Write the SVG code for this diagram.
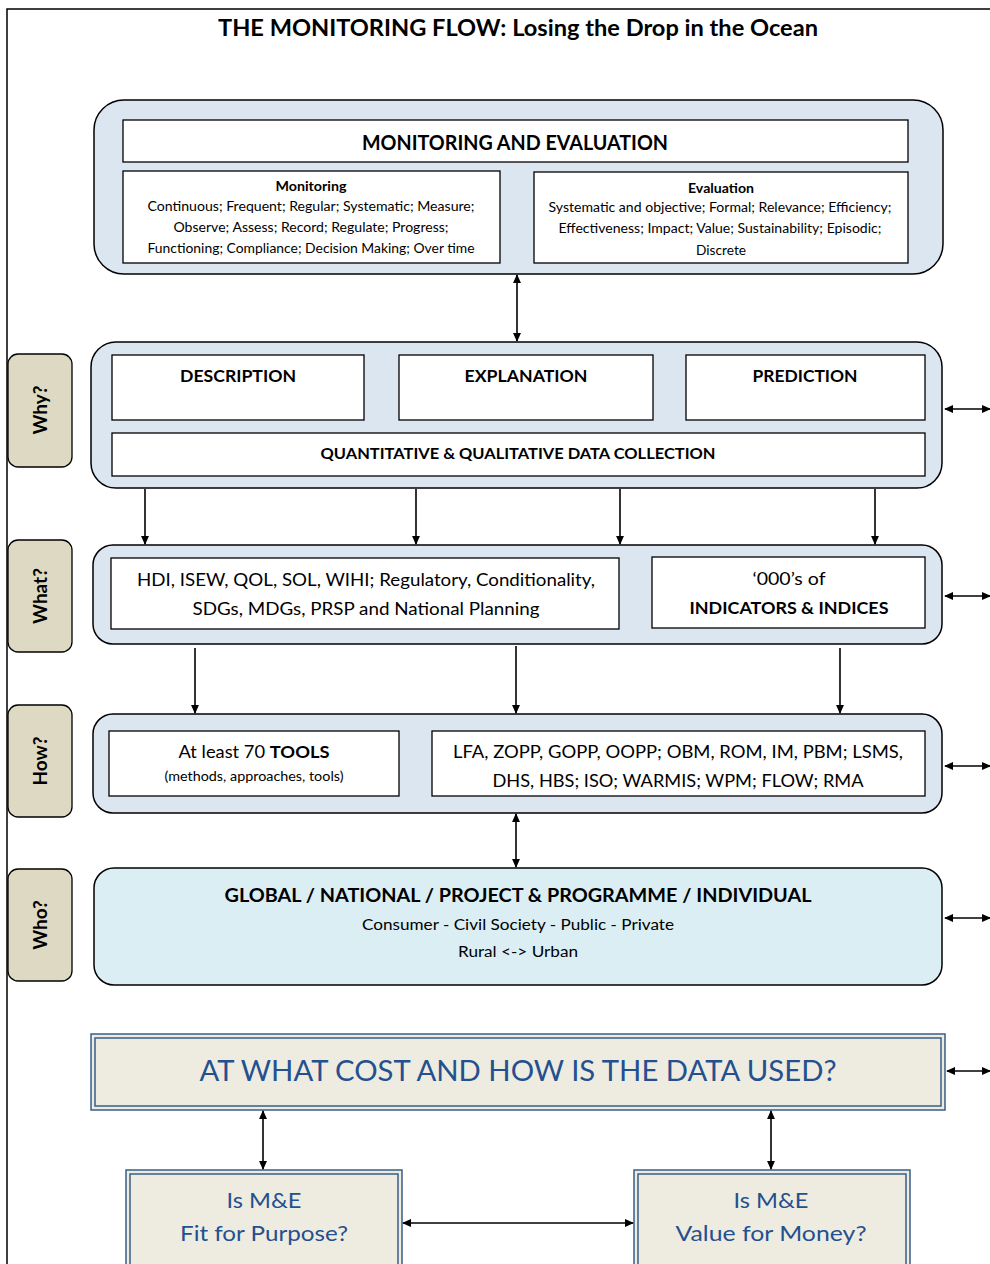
<svg xmlns="http://www.w3.org/2000/svg" width="990" height="1264" viewBox="0 0 990 1264">
<style>
text{font-family:Lato,"Open Sans","Liberation Sans",sans-serif;fill:#000;text-anchor:middle}
.b{font-weight:bold}
.grp{fill:#dce6f1;stroke:#000;stroke-width:1.5}
.in{fill:#fff;stroke:#000;stroke-width:1.3}
.side{fill:#ddd9c3;stroke:#000;stroke-width:1.3}
.cost{fill:#eeece1;stroke:#385d8a;stroke-width:1.5}
.bl{fill:#24508f}
.c line{stroke:#000;stroke-width:1.6}
</style>
<defs>
<marker id="ah" viewBox="0 0 10 10" refX="9" refY="5" markerWidth="9" markerHeight="8" orient="auto-start-reverse" markerUnits="userSpaceOnUse" preserveAspectRatio="none">
<path d="M0,0 L10,5 L0,10 z" fill="#000"/>
</marker>
</defs>
<rect width="990" height="1264" fill="#fff"/>
<path d="M7,1264 V9 H990" fill="none" stroke="#000" stroke-width="1.5"/>
<text x="518" y="36" class="b" font-size="22" textLength="600" lengthAdjust="spacingAndGlyphs">THE MONITORING FLOW: Losing the Drop in the Ocean</text>

<g id="me">
<rect class="grp" x="94" y="100" width="849" height="174" rx="30"/>
<rect class="in" x="123" y="120" width="785" height="42"/>
<text x="515" y="150" class="b" font-size="20" textLength="306" lengthAdjust="spacingAndGlyphs">MONITORING AND EVALUATION</text>
<rect class="in" x="123" y="171" width="377" height="92"/>
<text x="311" y="191" class="b" font-size="12.5" textLength="71" lengthAdjust="spacingAndGlyphs">Monitoring</text>
<text x="311" y="211" font-size="13.5" textLength="327" lengthAdjust="spacingAndGlyphs">Continuous; Frequent; Regular; Systematic; Measure;</text>
<text x="311" y="232" font-size="13.5" textLength="275" lengthAdjust="spacingAndGlyphs">Observe; Assess; Record; Regulate; Progress;</text>
<text x="311" y="253" font-size="13.5" textLength="327" lengthAdjust="spacingAndGlyphs">Functioning; Compliance; Decision Making; Over time</text>
<rect class="in" x="534" y="172" width="374" height="91"/>
<text x="721" y="193" class="b" font-size="12.5" textLength="66" lengthAdjust="spacingAndGlyphs">Evaluation</text>
<text x="720" y="212" font-size="13.5" textLength="343" lengthAdjust="spacingAndGlyphs">Systematic and objective; Formal; Relevance; Efficiency;</text>
<text x="720" y="233" font-size="13.5" textLength="323" lengthAdjust="spacingAndGlyphs">Effectiveness; Impact; Value; Sustainability; Episodic;</text>
<text x="721" y="255" font-size="13.5" textLength="50" lengthAdjust="spacingAndGlyphs">Discrete</text>
</g>

<g id="why">
<rect class="side" x="8" y="354" width="64" height="113" rx="10"/>
<text transform="translate(47,410) rotate(-90)" class="b" font-size="19">Why?</text>
<rect class="grp" x="91" y="342" width="851" height="146" rx="25"/>
<rect class="in" x="112" y="355" width="252" height="65"/>
<text x="238" y="382" class="b" font-size="17" textLength="116" lengthAdjust="spacingAndGlyphs">DESCRIPTION</text>
<rect class="in" x="399" y="355" width="254" height="65"/>
<text x="526" y="382" class="b" font-size="17" textLength="123" lengthAdjust="spacingAndGlyphs">EXPLANATION</text>
<rect class="in" x="686" y="355" width="239" height="65"/>
<text x="805" y="382" class="b" font-size="17" textLength="105" lengthAdjust="spacingAndGlyphs">PREDICTION</text>
<rect class="in" x="112" y="433" width="813" height="43"/>
<text x="518" y="459" class="b" font-size="15" textLength="395" lengthAdjust="spacingAndGlyphs">QUANTITATIVE &amp; QUALITATIVE DATA COLLECTION</text>
</g>

<g id="what">
<rect class="side" x="8" y="540" width="64" height="112" rx="10"/>
<text transform="translate(47,596) rotate(-90)" class="b" font-size="19">What?</text>
<rect class="grp" x="93" y="545" width="849" height="99" rx="20"/>
<rect class="in" x="111" y="558" width="508" height="71"/>
<text x="366" y="586" font-size="17.5" textLength="458" lengthAdjust="spacingAndGlyphs">HDI, ISEW, QOL, SOL, WIHI; Regulatory, Conditionality,</text>
<text x="366" y="615" font-size="17.5" textLength="347" lengthAdjust="spacingAndGlyphs">SDGs, MDGs, PRSP and National Planning</text>
<rect class="in" x="652" y="557" width="273" height="71"/>
<text x="789" y="585" font-size="17.5" textLength="73" lengthAdjust="spacingAndGlyphs">‘000’s of</text>
<text x="789" y="614" class="b" font-size="17.5" textLength="199" lengthAdjust="spacingAndGlyphs">INDICATORS &amp; INDICES</text>
</g>

<g id="how">
<rect class="side" x="8" y="705" width="64" height="112" rx="10"/>
<text transform="translate(47,761) rotate(-90)" class="b" font-size="19">How?</text>
<rect class="grp" x="93" y="714" width="849" height="99" rx="20"/>
<rect class="in" x="109" y="731" width="290" height="65"/>
<text x="254" y="758" font-size="17.5" textLength="151" lengthAdjust="spacingAndGlyphs">At least 70 <tspan class="b">TOOLS</tspan></text>
<text x="254" y="781" font-size="12.5" textLength="179" lengthAdjust="spacingAndGlyphs">(methods, approaches, tools)</text>
<rect class="in" x="432" y="731" width="493" height="65"/>
<text x="678" y="758" font-size="17.5" textLength="450" lengthAdjust="spacingAndGlyphs">LFA, ZOPP, GOPP, OOPP; OBM, ROM, IM, PBM; LSMS,</text>
<text x="678" y="787" font-size="17.5" textLength="371" lengthAdjust="spacingAndGlyphs">DHS, HBS; ISO; WARMIS; WPM; FLOW; RMA</text>
</g>

<g id="who">
<rect class="side" x="8" y="869" width="64" height="112" rx="10"/>
<text transform="translate(47,925) rotate(-90)" class="b" font-size="19">Who?</text>
<rect class="grp" x="94" y="868" width="848" height="117" rx="20" style="fill:#daeef3"/>
<text x="518" y="902" class="b" font-size="19" textLength="587" lengthAdjust="spacingAndGlyphs">GLOBAL / NATIONAL / PROJECT &amp; PROGRAMME / INDIVIDUAL</text>
<text x="518" y="930" font-size="15.5" textLength="312" lengthAdjust="spacingAndGlyphs">Consumer - Civil Society - Public - Private</text>
<text x="518" y="957" font-size="15.5" textLength="120" lengthAdjust="spacingAndGlyphs">Rural &lt;-&gt; Urban</text>
</g>

<g id="cost">
<rect class="cost" x="91" y="1034" width="854" height="76"/>
<rect x="95" y="1038" width="846" height="68" fill="none" stroke="#385d8a" stroke-width="1.5"/>
<text x="518" y="1081" class="bl" font-size="29" textLength="637" lengthAdjust="spacingAndGlyphs">AT WHAT COST AND HOW IS THE DATA USED?</text>
</g>

<g id="fit">
<rect class="cost" x="126" y="1170" width="276" height="110"/>
<rect x="130" y="1174" width="268" height="110" fill="none" stroke="#385d8a" stroke-width="1.5"/>
<text x="264" y="1208" class="bl" font-size="22" textLength="75" lengthAdjust="spacingAndGlyphs">Is M&amp;E</text>
<text x="264" y="1241" class="bl" font-size="22" textLength="168" lengthAdjust="spacingAndGlyphs">Fit for Purpose?</text>
</g>

<g id="vfm">
<rect class="cost" x="634" y="1170" width="276" height="110"/>
<rect x="638" y="1174" width="268" height="110" fill="none" stroke="#385d8a" stroke-width="1.5"/>
<text x="771" y="1208" class="bl" font-size="22" textLength="75" lengthAdjust="spacingAndGlyphs">Is M&amp;E</text>
<text x="771" y="1241" class="bl" font-size="22" textLength="191" lengthAdjust="spacingAndGlyphs">Value for Money?</text>
</g>

<g id="connectors" class="c">
<line x1="517" y1="275" x2="517" y2="341" marker-start="url(#ah)" marker-end="url(#ah)"/>
<line x1="145" y1="489" x2="145" y2="544" marker-end="url(#ah)"/>
<line x1="416" y1="489" x2="416" y2="544" marker-end="url(#ah)"/>
<line x1="620" y1="489" x2="620" y2="544" marker-end="url(#ah)"/>
<line x1="875" y1="489" x2="875" y2="544" marker-end="url(#ah)"/>
<line x1="195" y1="648" x2="195" y2="713" marker-end="url(#ah)"/>
<line x1="516" y1="646" x2="516" y2="713" marker-end="url(#ah)"/>
<line x1="840" y1="648" x2="840" y2="713" marker-end="url(#ah)"/>
<line x1="516" y1="814" x2="516" y2="867" marker-start="url(#ah)" marker-end="url(#ah)"/>
<line x1="945" y1="409" x2="990" y2="409" marker-start="url(#ah)" marker-end="url(#ah)"/>
<line x1="945" y1="596" x2="990" y2="596" marker-start="url(#ah)" marker-end="url(#ah)"/>
<line x1="945" y1="766" x2="990" y2="766" marker-start="url(#ah)" marker-end="url(#ah)"/>
<line x1="945" y1="918" x2="990" y2="918" marker-start="url(#ah)" marker-end="url(#ah)"/>
<line x1="947" y1="1071" x2="990" y2="1071" marker-start="url(#ah)" marker-end="url(#ah)"/>
<line x1="263" y1="1111" x2="263" y2="1169" marker-start="url(#ah)" marker-end="url(#ah)"/>
<line x1="771" y1="1111" x2="771" y2="1169" marker-start="url(#ah)" marker-end="url(#ah)"/>
<line x1="403" y1="1223" x2="633" y2="1223" marker-start="url(#ah)" marker-end="url(#ah)"/>
</g>
</svg>
